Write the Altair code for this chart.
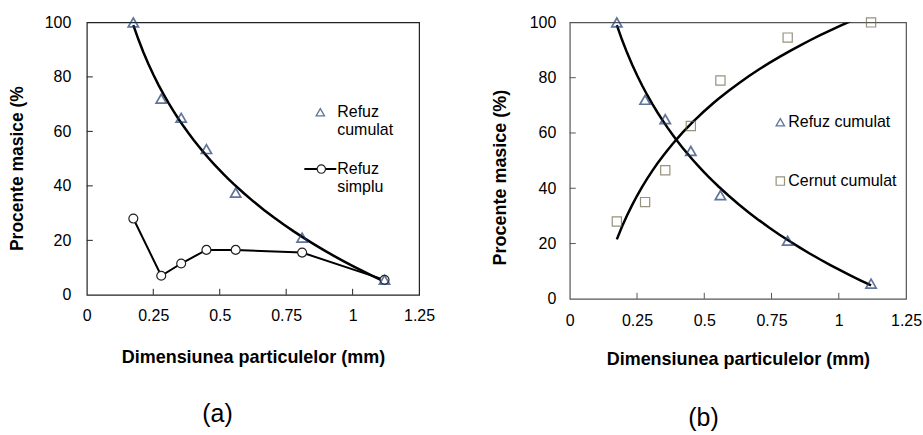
import altair as alt
import pandas as pd

# ---- data ----
size_mm = [0.175, 0.28, 0.355, 0.45, 0.56, 0.81, 1.12]
refuz_cumulat = [100, 72, 65, 53.5, 37.5, 21, 5.5]
refuz_simplu = [28, 7, 11.5, 16.5, 16.5, 15.5, 5.5]
cernut_cumulat = [28, 35, 46.5, 62.5, 79, 94.5, 100]
x_tick_values = [0, 0.25, 0.5, 0.75, 1, 1.25]
y_tick_values = [0, 20, 40, 60, 80, 100]
inner_x_ticks = [0.25, 0.5, 0.75, 1]
inner_y_ticks = [20, 40, 60, 80]

df = pd.DataFrame({"x": size_mm, "rc": refuz_cumulat,
                   "rs": refuz_simplu, "cc": cernut_cumulat})
xt = pd.DataFrame({"t": inner_x_ticks})
yt = pd.DataFrame({"t": inner_y_ticks})

FONT = "Liberation Sans"
TRI = "#1f3a70"
SQ = "#6b6648"
LABEL = "'' + datum.value"


def one(label):
    return pd.DataFrame({"label": [label]})


def panel(W, H, frame, ytitle, ytitle_x, ytitle_y, ytitle_size, xtitle_y,
          xlab_pad, ylab_pad):
    xs = alt.Scale(domain=[0, 1.25], nice=False, zero=False)
    ys = alt.Scale(domain=[0, 100], nice=False)
    xaxis = alt.Axis(values=x_tick_values, title="Dimensiunea particulelor (mm)",
                     labelExpr=LABEL,
                     labelFont=FONT, labelFontSize=16, labelColor="#000",
                     labelPadding=xlab_pad, labelFlush=False, labelOverlap=False,
                     ticks=False, tickSize=0, domain=False, grid=False,
                     titleFont=FONT, titleFontSize=18, titleFontWeight="bold",
                     titleColor="#000", titleY=xtitle_y, titleBaseline="middle")
    yaxis = alt.Axis(values=y_tick_values, title=ytitle, labelExpr=LABEL,
                     labelFont=FONT, labelFontSize=16, labelColor="#000",
                     labelPadding=ylab_pad, labelFlush=False, labelOverlap=False,
                     ticks=False, tickSize=0, domain=False, grid=False,
                     titleFont=FONT, titleFontSize=ytitle_size, titleFontWeight="bold",
                     titleColor="#000", titleX=ytitle_x, titleY=ytitle_y,
                     titleAngle=270, titleAlign="center", titleBaseline="middle")
    base = alt.Chart(df)
    xticks = alt.Chart(xt).mark_rule(color=frame, strokeWidth=1).encode(
        x=alt.X("t:Q", scale=xs, axis=xaxis), y=alt.value(H), y2=alt.value(H - 6))
    yticks = alt.Chart(yt).mark_rule(color=frame, strokeWidth=1).encode(
        y=alt.Y("t:Q", scale=ys, axis=yaxis), x=alt.value(0), x2=alt.value(6))
    return base, xs, ys, xticks, yticks


# ---------------- panel (a) ----------------
W1, H1 = 333, 273
base, xs, ys, xticks, yticks = panel(W1, H1, "#222222", "Procente masice (%",
                                     -69, 146, 17.5, 63, 13, 16)
trend_a = base.transform_regression("x", "rc", method="log").mark_line(
    color="black", strokeWidth=2.5, clip=True).encode(
    x=alt.X("x:Q", scale=xs), y=alt.Y("rc:Q", scale=ys))
tri_a = base.mark_point(shape="triangle-up", size=105, filled=False,
                        color=TRI, strokeWidth=1.7).encode(
    x=alt.X("x:Q", scale=xs), y=alt.Y("rc:Q", scale=ys))
line_a = base.mark_line(color="black", strokeWidth=2).encode(
    x=alt.X("x:Q", scale=xs), y=alt.Y("rs:Q", scale=ys))
circ_a = base.mark_point(shape="circle", size=80, filled=True, fill="white",
                         stroke="#222", strokeWidth=1.2, opacity=1).encode(
    x=alt.X("x:Q", scale=xs), y=alt.Y("rs:Q", scale=ys))

leg_txt = dict(font=FONT, fontSize=16, align="left", baseline="middle", color="#000")
lg_a = [
    alt.Chart(one("t")).mark_point(shape="triangle-up", size=70, filled=False,
                                  color=TRI, strokeWidth=1.3).encode(
        x=alt.value(234), y=alt.value(90)),
    alt.Chart(one("Refuz")).mark_text(**leg_txt).encode(
        x=alt.value(251), y=alt.value(90), text="label:N"),
    alt.Chart(one("cumulat")).mark_text(**leg_txt).encode(
        x=alt.value(251), y=alt.value(108), text="label:N"),
    alt.Chart(one("l")).mark_rule(color="black", strokeWidth=2).encode(
        x=alt.value(218), x2=alt.value(250), y=alt.value(147)),
    alt.Chart(one("c")).mark_point(shape="circle", size=70, filled=True, fill="white",
                                  stroke="#222", strokeWidth=1.2, opacity=1).encode(
        x=alt.value(235), y=alt.value(147)),
    alt.Chart(one("Refuz")).mark_text(**leg_txt).encode(
        x=alt.value(251), y=alt.value(147), text="label:N"),
    alt.Chart(one("simplu")).mark_text(**leg_txt).encode(
        x=alt.value(251), y=alt.value(165), text="label:N"),
    alt.Chart(one("(a)")).mark_text(font=FONT, fontSize=25, align="center",
                                   baseline="middle", color="#000").encode(
        x=alt.value(131), y=alt.value(392), text="label:N"),
]

panel_a = alt.layer(xticks, yticks, trend_a, line_a, circ_a, tri_a, *lg_a).properties(
    width=W1, height=H1,
    view=alt.ViewBackground(stroke="#222222", strokeWidth=1.2, fill="white"))

# ---------------- panel (b) ----------------
W2, H2 = 337, 277
base, xs, ys, xticks2, yticks2 = panel(W2, H2, "#555555", "Procente masice (%)",
                                       -69, 155, 18, 61, 14, 14)
trend_b1 = base.transform_regression("x", "rc", method="log").mark_line(
    color="black", strokeWidth=2.5, clip=True).encode(
    x=alt.X("x:Q", scale=xs), y=alt.Y("rc:Q", scale=ys))
trend_b2 = base.transform_regression("x", "cc", method="log").mark_line(
    color="black", strokeWidth=2.5, clip=True).encode(
    x=alt.X("x:Q", scale=xs), y=alt.Y("cc:Q", scale=ys))
tri_b = base.mark_point(shape="triangle-up", size=105, filled=False,
                        color=TRI, strokeWidth=1.7).encode(
    x=alt.X("x:Q", scale=xs), y=alt.Y("rc:Q", scale=ys))
sq_b = base.mark_point(shape="square", size=85, filled=False,
                       color=SQ, strokeWidth=1.2).encode(
    x=alt.X("x:Q", scale=xs), y=alt.Y("cc:Q", scale=ys))

lg_b = [
    alt.Chart(one("t")).mark_point(shape="triangle-up", size=70, filled=False,
                                  color=TRI, strokeWidth=1.3).encode(
        x=alt.value(211), y=alt.value(100)),
    alt.Chart(one("Refuz cumulat")).mark_text(**leg_txt).encode(
        x=alt.value(219), y=alt.value(100), text="label:N"),
    alt.Chart(one("s")).mark_point(shape="square", size=70, filled=False,
                                  color=SQ, strokeWidth=1.2).encode(
        x=alt.value(211), y=alt.value(159)),
    alt.Chart(one("Cernut cumulat")).mark_text(**leg_txt).encode(
        x=alt.value(219), y=alt.value(159), text="label:N"),
    alt.Chart(one("(b)")).mark_text(font=FONT, fontSize=25, align="center",
                                   baseline="middle", color="#000").encode(
        x=alt.value(134), y=alt.value(396), text="label:N"),
]

panel_b = alt.layer(xticks2, yticks2, trend_b1, trend_b2, tri_b, sq_b, *lg_b).properties(
    width=W2, height=H2,
    view=alt.ViewBackground(stroke="#555555", strokeWidth=1.2, fill="white"))

chart = alt.hconcat(panel_a, panel_b, spacing=55).resolve_scale(
    x="independent", y="independent").properties(
    padding={"left": 8, "top": 13, "right": 0, "bottom": 0},
    background="white")

chart.save("out.html", embed_options={"renderer": "svg", "actions": False})
